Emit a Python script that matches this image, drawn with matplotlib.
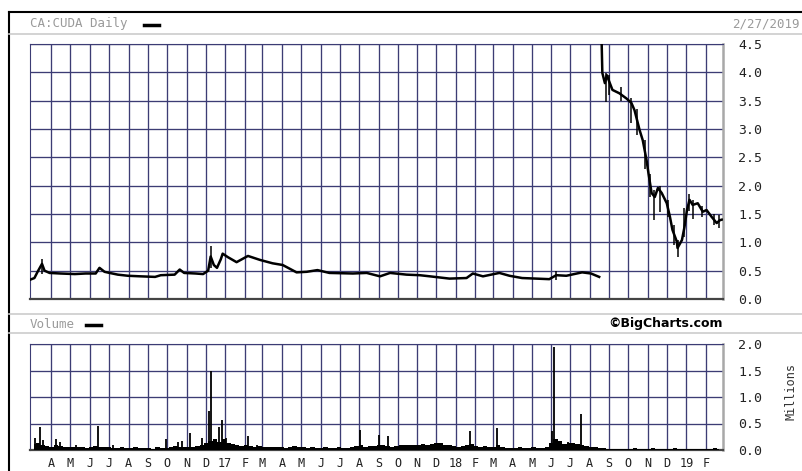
import matplotlib
matplotlib.use('Agg')
import matplotlib.pyplot as plt
from matplotlib.lines import Line2D
import pandas as pd

# Cours CA:CUDA (deux segments : avant et après la consolidation d'août 2018)
px1_dates = ['2016-02-27', '2016-03-05', '2016-03-10', '2016-03-17', '2016-03-21', '2016-03-29',
             '2016-04-15', '2016-05-08', '2016-05-25', '2016-06-10', '2016-06-16', '2016-06-24',
             '2016-07-02', '2016-07-15', '2016-07-31', '2016-08-20', '2016-09-12', '2016-09-21',
             '2016-10-13', '2016-10-21', '2016-10-28', '2016-11-15', '2016-11-27', '2016-12-05',
             '2016-12-09', '2016-12-14', '2016-12-19', '2016-12-25', '2016-12-28', '2017-01-05',
             '2017-01-19', '2017-02-06', '2017-02-25', '2017-03-17', '2017-04-02', '2017-04-24',
             '2017-05-10', '2017-05-27', '2017-06-15', '2017-07-22', '2017-08-13', '2017-09-03',
             '2017-09-19', '2017-10-15', '2017-11-05', '2017-11-21', '2017-12-22', '2018-01-18',
             '2018-01-28', '2018-02-13', '2018-03-11', '2018-03-27', '2018-04-16', '2018-05-08',
             '2018-05-29', '2018-06-09', '2018-06-25', '2018-07-20', '2018-08-03', '2018-08-16']
px1_vals = [0.34, 0.37, 0.48, 0.62, 0.50, 0.46,
            0.45, 0.44, 0.45, 0.45, 0.55, 0.48,
            0.46, 0.43, 0.41, 0.40, 0.39, 0.42,
            0.43, 0.52, 0.46, 0.45, 0.44, 0.50,
            0.75, 0.60, 0.55, 0.70, 0.80, 0.74,
            0.65, 0.76, 0.69, 0.63, 0.60, 0.47,
            0.48, 0.51, 0.46, 0.45, 0.46, 0.40,
            0.46, 0.43, 0.42, 0.40, 0.36, 0.37,
            0.45, 0.40, 0.46, 0.41, 0.37, 0.36,
            0.35, 0.42, 0.41, 0.47, 0.45, 0.39]

px2_dates = ['2018-08-20', '2018-08-21', '2018-08-25', '2018-08-28', '2018-09-06', '2018-09-17',
             '2018-09-28', '2018-10-06', '2018-10-11', '2018-10-19', '2018-10-24', '2018-10-30',
             '2018-11-02', '2018-11-07', '2018-11-12', '2018-11-17', '2018-11-23', '2018-12-01',
             '2018-12-06', '2018-12-10', '2018-12-17', '2018-12-18', '2018-12-25', '2018-12-29',
             '2019-01-02', '2019-01-06', '2019-01-11', '2019-01-19', '2019-01-27', '2019-02-02',
             '2019-02-10', '2019-02-18', '2019-02-23', '2019-02-26']
px2_vals = [4.48, 3.99, 3.81, 3.95, 3.69, 3.63,
            3.54, 3.46, 3.33, 2.98, 2.80, 2.45,
            2.22, 1.87, 1.80, 1.96, 1.87, 1.69,
            1.45, 1.22, 1.01, 0.90, 1.04, 1.27,
            1.57, 1.75, 1.66, 1.69, 1.54, 1.57,
            1.45, 1.34, 1.39, 1.40]

# barres haut/bas visibles
hl_dates = ['2016-03-17', '2016-12-09', '2018-06-09', '2018-08-27', '2018-09-01', '2018-09-20',
            '2018-10-06', '2018-10-15', '2018-10-27', '2018-11-05', '2018-11-10', '2018-11-21',
            '2018-12-03', '2018-12-12', '2018-12-18', '2018-12-29', '2019-01-05', '2019-01-12',
            '2019-01-25', '2019-02-14', '2019-02-22']
hl_high = [0.70, 0.93, 0.50, 3.99, 3.95, 3.75, 3.55, 3.35, 2.80, 2.20, 1.92, 2.00,
           1.75, 1.30, 1.05, 1.60, 1.85, 1.75, 1.65, 1.50, 1.48]
hl_low = [0.45, 0.55, 0.33, 3.47, 3.60, 3.50, 3.10, 2.90, 2.30, 1.80, 1.39, 1.53,
          1.45, 0.95, 0.74, 1.10, 1.55, 1.42, 1.45, 1.30, 1.25]

# Volume hebdomadaire de fond (millions), à partir du 2016-03-04
vol_base = [.12, .14, .10, .08, .06, .09, .07, .06, .05, .05, .06, .05, .04,
            .05, .07, .06, .05, .05, .04, .03, .05, .03, .03, .05, .03, .03,
            .03, .02, .05, .03, .03, .06, .07, .06, .05, .05, .06, .07, .09,
            .14, .17, .20, .16, .20, .14, .11, .10, .08, .09, .07, .06, .07,
            .06, .05, .06, .05, .05, .03, .06, .07, .06, .05, .03, .05, .03,
            .03, .05, .03, .03, .05, .03, .04, .05, .08, .09, .06, .07, .07,
            .09, .10, .07, .06, .07, .09, .10, .09, .10, .09, .11, .10, .12,
            .13, .14, .10, .09, .07, .06, .07, .10, .11, .07, .06, .07, .06,
            .05, .09, .05, .03, .03, .03, .05, .03, .03, .05, .03, .03, .06,
            .14, .20, .17, .12, .14, .13, .11, .09, .07, .06, .05, .04, .03,
            .02, .02, .01, .02, .01, .01, .03, .02, .01, .02, .03, .02, .01,
            .02, .01, .03, .02, .01, .02, .01, .01, .02, .01, .02, .03, .02]

# Pics de volume (millions)
spike_dates = ['2016-03-06', '2016-03-14', '2016-03-18', '2016-04-08', '2016-04-15', '2016-05-10',
               '2016-06-14', '2016-07-08', '2016-09-30', '2016-10-19', '2016-10-24', '2016-11-06',
               '2016-11-26', '2016-12-07', '2016-12-09', '2016-12-22', '2016-12-27', '2017-01-03',
               '2017-02-06', '2017-02-20', '2017-08-03', '2017-09-01', '2017-09-16', '2018-01-24',
               '2018-03-07', '2018-06-03', '2018-06-06', '2018-06-10', '2018-06-28', '2018-07-18']
spike_vals = [0.23, 0.43, 0.18, 0.20, 0.15, 0.10,
              0.45, 0.10, 0.20, 0.16, 0.17, 0.32,
              0.22, 0.74, 1.49, 0.44, 0.57, 0.22,
              0.26, 0.10, 0.38, 0.28, 0.26, 0.35,
              0.41, 0.35, 1.94, 0.20, 0.15, 0.68]

price_ticks = [0.0, 0.5, 1.0, 1.5, 2.0, 2.5, 3.0, 3.5, 4.0, 4.5]
vol_ticks = [0.0, 0.5, 1.0, 1.5, 2.0]

GRID = '#3c3c74'
MONO = 'DejaVu Sans Mono'
W, H = 802, 471

x0, x1 = pd.Timestamp('2016-02-27'), pd.Timestamp('2019-02-28')
months = pd.date_range('2016-04-01', '2019-02-01', freq='MS')
month_labels = [f'{m.year % 100}' if m.month == 1 else 'JFMAMJJASOND'[m.month - 1] for m in months]

fig = plt.figure(figsize=(W / 100, H / 100), dpi=100)
fig.patch.set_facecolor('white')


def fx(px):
    return px / W


def fy(py):
    return 1 - py / H


ax = fig.add_axes([fx(30), fy(299), fx(723) - fx(30), fy(44) - fy(299)])
axv = fig.add_axes([fx(30), fy(450), fx(723) - fx(30), fy(344) - fy(450)])

for a, ticks in ((ax, price_ticks), (axv, vol_ticks)):
    a.set_xlim(x0, x1)
    a.set_ylim(ticks[0], ticks[-1])
    for m in months:
        a.axvline(m, color=GRID, lw=0.95, zorder=1)
    for t in ticks:
        a.axhline(t, color=GRID, lw=0.95, zorder=1)
    a.set_xticks([])
    a.yaxis.tick_right()
    a.set_yticks(ticks)
    a.set_yticklabels([f'{t:.1f}' for t in ticks], family=MONO, fontsize=9.5, color='#222222')
    a.tick_params(axis='y', length=0, pad=11)
    a.spines['left'].set_color(GRID)
    a.spines['top'].set_color(GRID)
    a.spines['right'].set_color('#a8a8a8')
    a.spines['right'].set_linewidth(1.8)
    a.spines['bottom'].set_color('#444444')
    a.spines['bottom'].set_linewidth(1.6)

# prix
ax.plot(pd.to_datetime(px1_dates), px1_vals, color='black', lw=1.8, zorder=3)
ax.plot(pd.to_datetime(px2_dates), px2_vals, color='black', lw=1.8, zorder=3)
ax.vlines(pd.to_datetime(hl_dates), hl_low, hl_high, color='black', lw=1.1, zorder=3)

# volume
vol_dates = pd.date_range('2016-03-04', periods=len(vol_base), freq='7D')
axv.fill_between(vol_dates, vol_base, step='mid', color='black', lw=0, zorder=3)
axv.vlines(pd.to_datetime(spike_dates), 0, spike_vals, color='black', lw=1.3, zorder=3)

# étiquettes des mois
for m, lab in zip(months, month_labels):
    axv.text(m, -0.13, lab, transform=axv.get_xaxis_transform(), ha='center', va='center',
             family=MONO, fontsize=8.5, color='#222222')

# cadre et bandeaux
fig.add_artist(Line2D([fx(9), 1], [fy(12), fy(12)], color='black', lw=1.5))
fig.add_artist(Line2D([fx(9), fx(9)], [fy(12), 0], color='black', lw=1.5))
for yy in (34, 314, 333):
    fig.add_artist(Line2D([fx(9), 1], [fy(yy), fy(yy)], color='#cccccc', lw=1.2))

fig.text(fx(30), fy(24), 'CA:CUDA Daily', family=MONO, fontsize=9, color='#9a9a9a', va='center')
fig.add_artist(Line2D([fx(144), fx(159)], [fy(25), fy(25)], color='black', lw=2.5))
fig.text(fx(800), fy(24), '2/27/2019', family=MONO, fontsize=9, color='#9a9a9a',
         ha='right', va='center')

fig.text(fx(30), fy(324), 'Volume', family=MONO, fontsize=9, color='#9a9a9a', va='center')
fig.add_artist(Line2D([fx(86), fx(101)], [fy(325), fy(325)], color='black', lw=2.5))
fig.text(fx(723), fy(324), '©BigCharts.com', fontsize=9, fontweight='bold', color='black',
         ha='right', va='center')
fig.text(fx(791), fy(392), 'Millions', family=MONO, fontsize=8.5, color='#333333',
         rotation=90, ha='center', va='center')

plt.savefig('out.png', dpi=100)
